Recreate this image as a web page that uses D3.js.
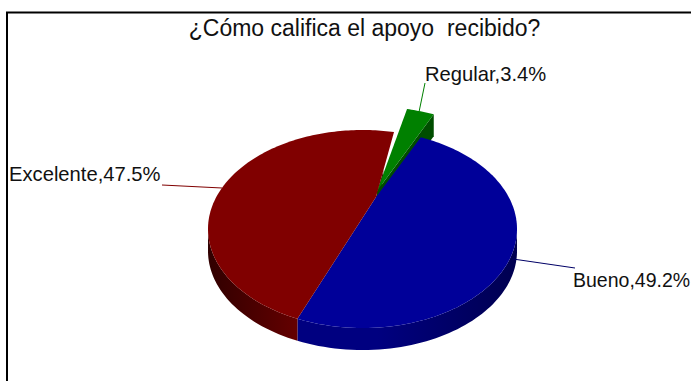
<!DOCTYPE html>
<html><head><meta charset="utf-8">
<style>html,body{margin:0;padding:0;background:#fff}svg{display:block}text{font-family:"Liberation Sans",Arial,sans-serif;fill:#111;white-space:pre}</style>
<script src="https://cdn.jsdelivr.net/npm/d3@7"></script></head><body><div id="c"></div>
<script>
const title = "¿Cómo califica el apoyo  recibido?";
const categories = ["Bueno","Excelente","Regular"];
const values = [49.2,47.5,3.4];
const topColors = ["#000099","#800000","#008000"];
const sideColors = [["#000050","#000080"],["#300000","#660000"],["#004d00","#004d00"]];

const W=691,H=381;
const svg=d3.select("#c").append("svg").attr("width",W).attr("height",H);
const rad=d3.scaleLinear().domain([0,180]).range([0,Math.PI]);
const pie=d3.pie().sort(null).value(d=>d).startAngle(rad(25.1)).endAngle(rad(25.1+360));
const arcs=pie(values);

// projection: disc -> tilted, perspective ellipse
const E={cx:362.5,cy:229,rx:154.5,ry:99,depth:22};
const V=[376,197];
const vanish=[(V[0]-E.cx)/E.rx,(V[1]-E.cy)/E.ry];
const a=Math.hypot(...vanish), ua=Math.atan2(vanish[1],vanish[0]);
function project(ang){ // d3 angle: 0 up, clockwise
  const t=ang-Math.PI/2-ua, x=Math.cos(t), y=Math.sin(t);
  const d=1+a*x, X=(x+a)/d, Y=y*Math.sqrt(1-a*a)/d;
  const c=Math.cos(ua), s=Math.sin(ua);
  return [E.cx+E.rx*(X*c-Y*s), E.cy+E.ry*(X*s+Y*c)];
}
const rim=(s,e,n=120)=>d3.range(n+1).map(i=>project(s+(e-s)*i/n));
const shift=(p,dx,dy)=>[p[0]+dx,p[1]+dy];
const line=d3.line();
const redTrim=rad(2.5), greenTrim=rad(1.5), explode=1.37;
const spans=[[arcs[0].startAngle,arcs[0].endAngle],[arcs[1].startAngle,arcs[1].endAngle-redTrim]];

const defs=svg.append("defs");
sideColors.forEach((c,i)=>{
  const g=defs.append("linearGradient").attr("id","side"+i).attr("gradientUnits","userSpaceOnUse")
    .attr("x1",i==1?E.cx-E.rx:E.cx+E.rx).attr("x2",i==1?E.cx-E.rx*0.4:E.cx+E.rx*0.1).attr("y1",0).attr("y2",0);
  g.append("stop").attr("offset",0).attr("stop-color",c[0]);
  g.append("stop").attr("offset",1).attr("stop-color",c[1]);
});

// frame
svg.append("path").attr("d",`M7,${H} V12.5 H${W}`).attr("fill","none").attr("stroke","#000").attr("stroke-width",2);

// red end wall, seen between the red and green slices
const redEnd=project(spans[1][1]);
svg.append("path").attr("fill","#3a0000")
  .attr("d",line([V,[V[0]+0.42*(redEnd[0]-V[0]),V[1]+0.42*(redEnd[1]-V[1])],shift(V,5,0)])+"Z");

// exploded slice
const G=arcs[2], gApex=[377,191];
const gRim=rim(G.startAngle,G.endAngle-greenTrim,12).map(p=>[V[0]+explode*(p[0]-V[0]),V[1]+explode*(p[1]-V[1])]);
const gEnd=gRim[gRim.length-1];
svg.append("path").attr("fill","url(#side2)")
  .attr("d",line([gEnd,shift(gEnd,0,E.depth),shift(gApex,0,E.depth),gApex])+"Z");
svg.append("path").attr("fill",topColors[2]).attr("d",line([gApex,...gRim])+"Z");

// sides of main slices: only the front of the rim
spans.forEach((sp,i)=>{
  const r=rim(sp[0],sp[1]).filter(p=>p[1]>=E.cy);
  const low=r.slice().reverse().map(p=>shift(p,0,E.depth));
  svg.append("path").attr("fill",`url(#side${i})`).attr("d",line([...r,...low])+"Z");
});
// tops
spans.forEach((sp,i)=>{
  svg.append("path").attr("fill",topColors[i]).attr("d",line([V,...rim(sp[0],sp[1])])+"Z");
});

// leaders + labels
const leaders=[[[513,259],[575,268]],[[222,188],[162,185]],[[419,112],[425,83]]];
const leaderColors=["#000066","#800000","#008000"];
leaders.forEach((l,i)=>svg.append("path").attr("d",line(l)).attr("fill","none").attr("stroke",leaderColors[i]).attr("stroke-width",1));
const labels=[[573,287,19.5],[9,181,20.2],[425,81,20.2]];
categories.forEach((c,i)=>svg.append("text").attr("x",labels[i][0]).attr("y",labels[i][1]).attr("font-size",labels[i][2])
  .text(`${c},${values[i].toFixed(1)}%`));
svg.append("text").attr("x",364.5).attr("y",36).attr("text-anchor","middle").attr("font-size",23).text(title);
</script></body></html>
